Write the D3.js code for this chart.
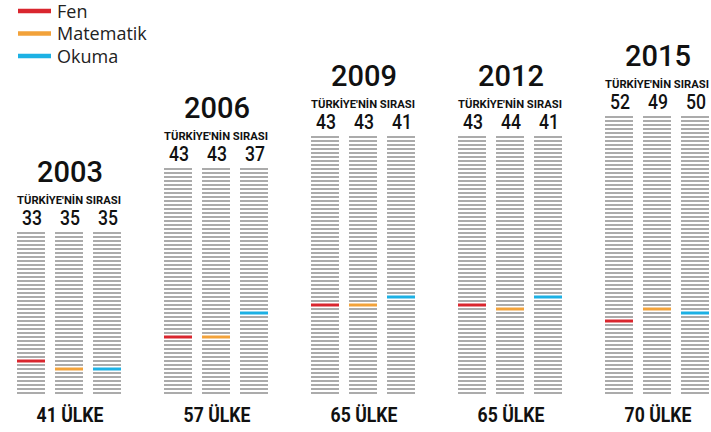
<!DOCTYPE html>
<html>
<head>
<meta charset="utf-8">
<script src="https://cdn.jsdelivr.net/npm/d3@7"></script>
<style>
  body { margin: 0; background: #fff; }
  text { font-family: Roboto, "Liberation Sans", sans-serif; }
</style>
</head>
<body>
<div id="chart"></div>
<script>
// data
const years = ["2003", "2006", "2009", "2012", "2015"];
const countries = [41, 57, 65, 65, 70];
const fen = [33, 43, 43, 43, 52];
const matematik = [35, 43, 43, 44, 49];
const okuma = [35, 37, 41, 41, 50];
const subjects = ["Fen", "Matematik", "Okuma"];
const colors = ["#d9262e", "#f2a23a", "#1db1e4"];

const width = 711, height = 432;

const svg = d3.select("#chart")
    .append("svg")
    .attr("width", width)
    .attr("height", height);

// groups of three columns
const x = d3.scaleBand()
    .domain(years)
    .range([17, 17 + 147 * years.length]);
const colW = 28;
const xSub = d3.scalePoint()
    .domain(subjects)
    .range([0, 76]);

// rows counted from the bottom line, 4px apart
const rowsFromBottom = d3.scaleLinear()
    .domain([0, 69])
    .range([393, 393 - 69 * 4]);

const color = d3.scaleOrdinal().domain(subjects).range(colors);

const rows = years.map((yr, i) => ({
    year: yr,
    n: countries[i],
    ranks: [fen[i], matematik[i], okuma[i]]
}));

const g = svg.selectAll("g.year")
    .data(rows)
    .join("g")
    .attr("class", "year")
    .attr("transform", d => `translate(${x(d.year)},0)`);

const groupW = 76 + colW;

// condensed look: squeeze text horizontally around its anchor
function squeeze(sel, k, cx, cy) {
    sel.attr("transform", d => `translate(${cx(d)},${cy(d)}) scale(${k},1)`)
       .attr("x", 0).attr("y", 0);
}

// gray lines, one per country
subjects.forEach((s, si) => {
    g.append("g")
        .selectAll("line")
        .data(d => d3.range(1, d.n + 1).map(r => ({r: r, n: d.n})))
        .join("line")
        .attr("x1", xSub(s))
        .attr("x2", xSub(s) + colW)
        .attr("y1", d => rowsFromBottom(d.n - d.r))
        .attr("y2", d => rowsFromBottom(d.n - d.r))
        .style("stroke", "#ababab")
        .style("stroke-width", 2);

    // Turkey's rank
    g.append("line")
        .attr("x1", xSub(s))
        .attr("x2", xSub(s) + colW)
        .attr("y1", d => rowsFromBottom(d.n - d.ranks[si]))
        .attr("y2", d => rowsFromBottom(d.n - d.ranks[si]))
        .style("stroke", color(s))
        .style("stroke-width", 3);

    // rank number above column
    g.append("text")
        .attr("text-anchor", "middle")
        .style("font-size", "20px")
        .style("font-weight", 500)
        .style("fill", "#111")
        .text(d => d.ranks[si])
        .call(squeeze, 0.88, () => xSub(s) + colW / 2 + 1, d => rowsFromBottom(d.n - 1) - 8);
});

// year titles
g.append("text")
    .attr("x", groupW / 2 + 1)
    .attr("y", d => rowsFromBottom(d.n - 1) - 51)
    .attr("text-anchor", "middle")
    .style("font-weight", 500)
    .style("font-size", "29px")
    .style("fill", "#111")
    .text(d => d.year);

const sub = g.append("text")
    .attr("text-anchor", "middle")
    .style("font-size", "11.5px")
    .style("font-weight", "bold")
    .style("fill", "#111")
    .text("TÜRKİYE'NİN SIRASI");
// fit to ~104px wide
const subLen = sub.node().getComputedTextLength();
sub.call(squeeze, 104 / subLen, () => groupW / 2, d => rowsFromBottom(d.n - 1) - 29.5);

// country counts
g.append("text")
    .attr("text-anchor", "middle")
    .style("font-size", "20.5px")
    .style("font-weight", "bold")
    .style("fill", "#111")
    .text(d => d.n + " ÜLKE")
    .call(squeeze, 0.86, () => groupW / 2 + 1, () => 422);

// legend
const legend = svg.append("g")
    .selectAll("g")
    .data(subjects)
    .join("g")
    .attr("transform", (d, i) => `translate(18, ${11 + i * 22.5})`);

legend.append("line")
    .attr("x1", 0)
    .attr("x2", 33)
    .style("stroke", d => color(d))
    .style("stroke-width", 4.5);

legend.append("text")
    .attr("x", 39)
    .attr("y", 6.5)
    .style("font-family", "'Open Sans', sans-serif")
    .style("font-size", "18px")
    .style("fill", "#222")
    .text(d => d);
</script>
</body>
</html>
